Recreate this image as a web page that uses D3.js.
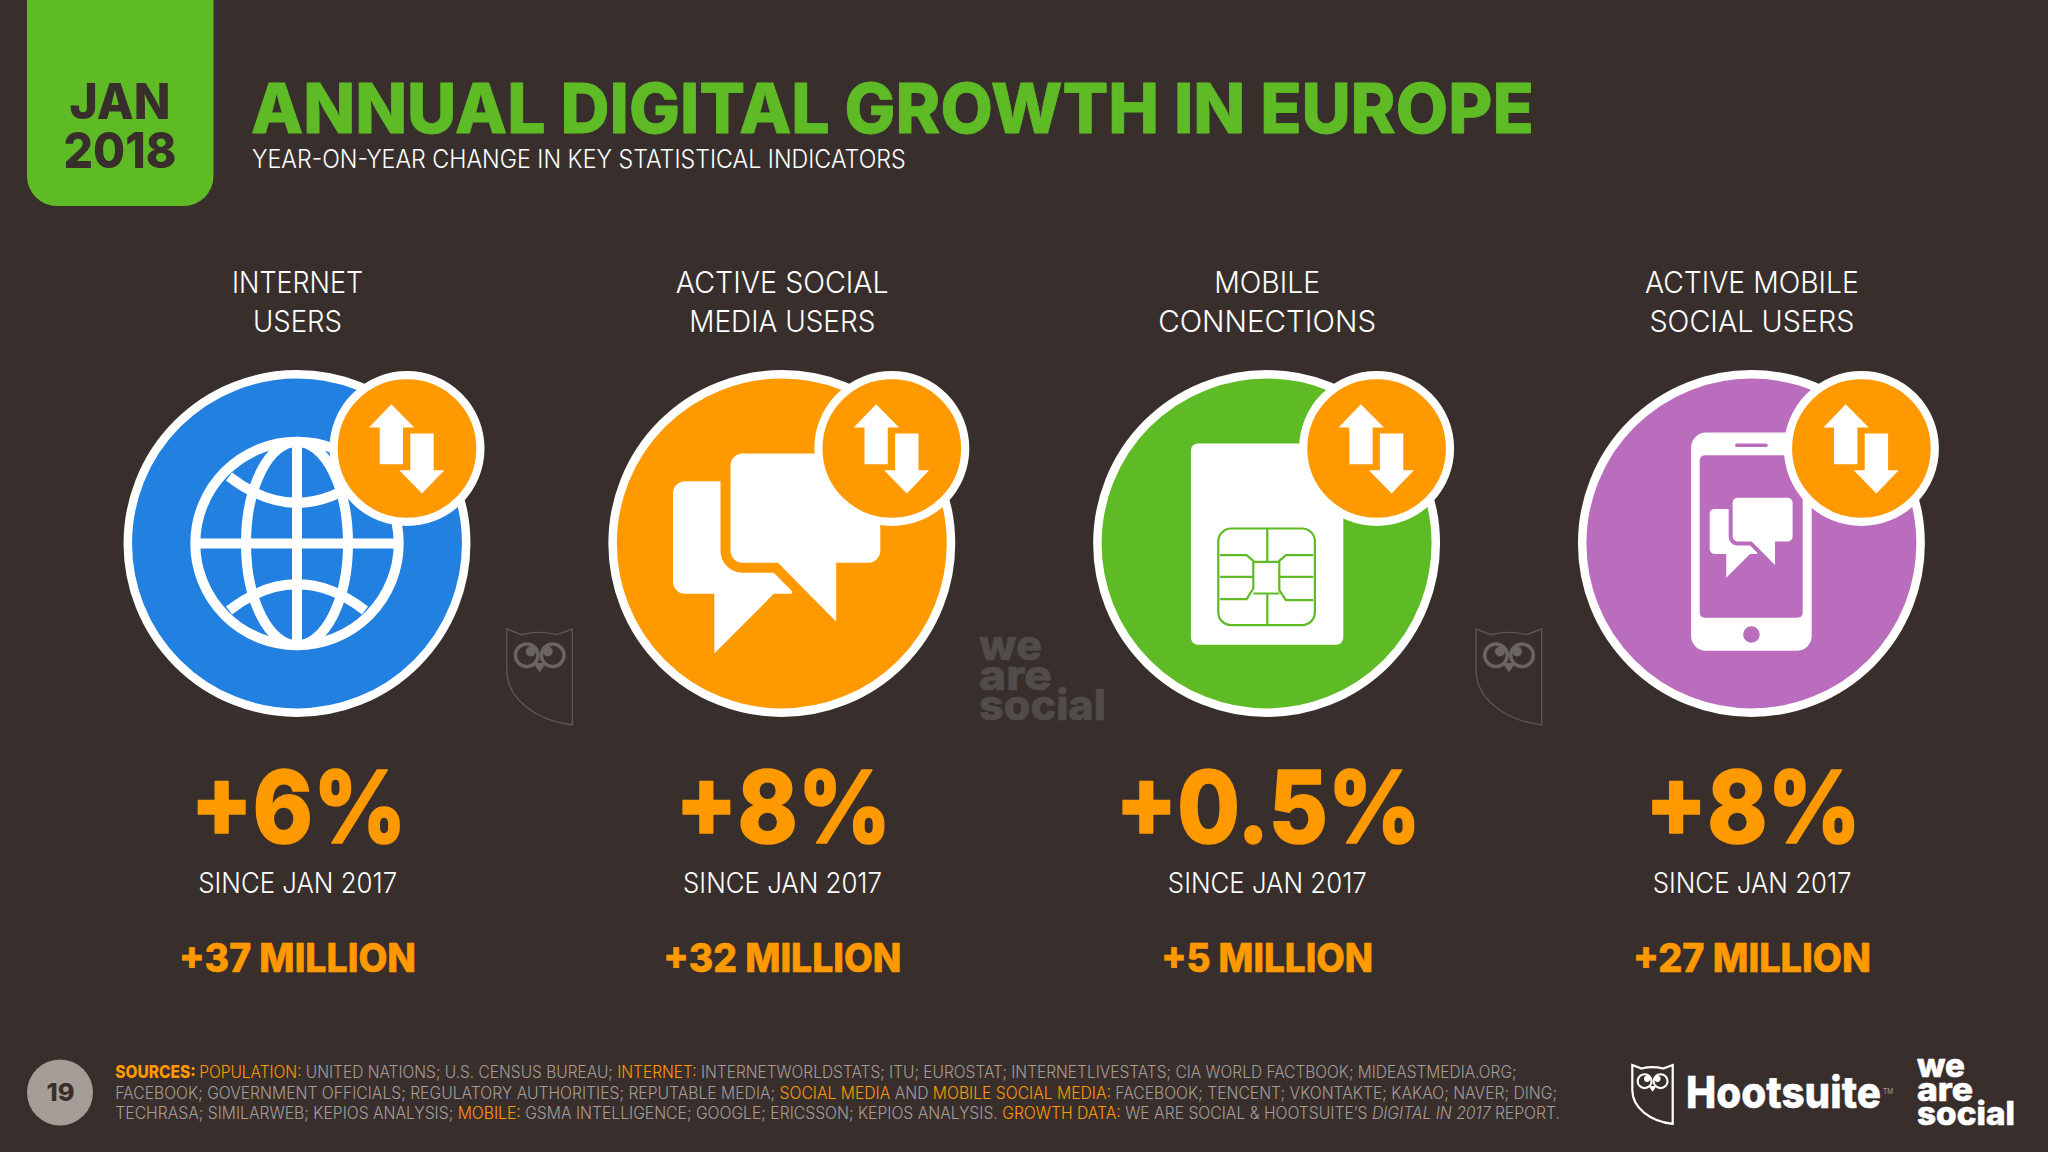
<!DOCTYPE html>
<html><head><meta charset="utf-8">
<style>html,body{margin:0;padding:0;background:#382f2d;overflow:hidden}svg{display:block}text{white-space:pre}</style>
<script src="https://cdn.jsdelivr.net/npm/d3@7/dist/d3.min.js"></script>
</head><body><svg id="c" width="2048" height="1152"></svg>
<script>
// ---------- data ----------
const categories = [["INTERNET","USERS"],["ACTIVE SOCIAL","MEDIA USERS"],["MOBILE","CONNECTIONS"],["ACTIVE MOBILE","SOCIAL USERS"]];
const growthPercent = [6, 8, 0.5, 8];
const growthMillions = [37, 32, 5, 27];
const sinceLabel = "SINCE JAN 2017";
const titleText = "ANNUAL DIGITAL GROWTH IN EUROPE";
const subtitleText = "YEAR-ON-YEAR CHANGE IN KEY STATISTICAL INDICATORS";
const dateLines = ["JAN","2018"];
const pageNumber = "19";
const sourceLine1 = [["SOURCES: ","b"],["POPULATION: ","o"],["UNITED NATIONS; U.S. CENSUS BUREAU; ","n"],["INTERNET: ","o"],["INTERNETWORLDSTATS; ITU; EUROSTAT; INTERNETLIVESTATS; CIA WORLD FACTBOOK; MIDEASTMEDIA.ORG;","n"]];
const sourceLine2 = [["FACEBOOK; GOVERNMENT OFFICIALS; REGULATORY AUTHORITIES; REPUTABLE MEDIA; ","n"],["SOCIAL MEDIA","o"],[" AND ","n"],["MOBILE SOCIAL MEDIA: ","o"],["FACEBOOK; TENCENT; VKONTAKTE; KAKAO; NAVER; DING;","n"]];
const sourceLine3 = [["TECHRASA; SIMILARWEB; KEPIOS ANALYSIS; ","n"],["MOBILE: ","o"],["GSMA INTELLIGENCE; GOOGLE; ERICSSON; KEPIOS ANALYSIS. ","n"],["GROWTH DATA: ","o"],["WE ARE SOCIAL & HOOTSUITE\u2019S ","n"],["DIGITAL IN 2017","i"],[" REPORT.","n"]];

// ---------- layout / style ----------
const BG="#382f2d", GREEN="#5fbb25", ORANGE="#ff9900", BLUE="#2280e0", PURPLE="#bb6dbd", GREY="#a79d97", WM="#514b4a";
const HEAVY="Inter", LIGHT="Inter";
const colors=[BLUE,ORANGE,GREEN,PURPLE];
const headingW=[[131,89],[213,186],[106,218],[214,205]];
const pctW=[216,216,306,216], milW=[237,238,212,238];
const x=d3.scalePoint().domain(d3.range(4)).range([297,1751.4]);
const cy=543.5;
const svg=d3.select("#c");
svg.append("rect").attr("width",2048).attr("height",1152).attr("fill",BG);

// text helper: squeezes real text to measured width
function txt(p,s,tx,ty,size,weight,fill,w,anchor,family,bold){
  const t=p.append("text").text(s).attr("font-family",family||LIGHT).attr("font-size",size)
    .attr("font-weight",weight).attr("fill",fill).attr("text-anchor",anchor||"middle");
  if(bold) t.attr("stroke",fill).attr("stroke-width",bold).attr("stroke-linejoin","round");
  const sx=w?w/t.node().getComputedTextLength():1;
  t.attr("transform",`translate(${tx},${ty}) scale(${sx},1)`);
  return t;
}

// header tab
svg.append("path").attr("fill",GREEN).attr("d","M27,0H213.5V176a30,30 0 0 1 -30,30H57a30,30 0 0 1 -30,-30Z");
txt(svg,dateLines[0],120,119,50,800,BG,101,"middle",HEAVY);
txt(svg,dateLines[1],120,168,50,800,BG,113,"middle",HEAVY);
txt(svg,titleText,251,133,69,800,GREEN,1283,"start",HEAVY,0.8);
txt(svg,subtitleText,252,168,25,300,"#fff",654,"start",LIGHT);

// icons (units are px from circle centre)
function bubbles(g,k,dx,dy,c){
  const s=g.append("g").attr("transform",`translate(${dx},${dy}) scale(${k})`);
  s.append("path").attr("fill","#fff")
   .attr("d","M-96.8,-62.3H10V50.3H-8L-67.5,110V50.3H-96.8a12,12 0 0 1 -12,-12V-50.3a12,12 0 0 1 12,-12Z");
  s.append("path").attr("fill","#fff").attr("stroke",c).attr("stroke-width",20).attr("paint-order","stroke")
   .attr("stroke-linejoin","miter")
   .attr("d","M-39.3,-90H86.5a12,12 0 0 1 12,12V7.3a12,12 0 0 1 -12,12H54.4V78.3L-3.8,19.3H-39.3a12,12 0 0 1 -12,-12V-78a12,12 0 0 1 12,-12Z");
}
const icons=[
 g=>{ const a=g.append("g").attr("fill","none").attr("stroke","#fff").attr("stroke-width",10);
   a.append("circle").attr("r",101.7);
   a.append("ellipse").attr("rx",51).attr("ry",101.7);
   a.append("path").attr("d","M0,-101.7V101.7M-101.7,0H101.7M-68,-67Q0,-14.4 68,-67M-68,67Q0,14.4 68,67"); },
 g=>bubbles(g,1,0,0,ORANGE),
 g=>{ g.append("rect").attr("x",-75.7).attr("y",-100).attr("width",152.4).attr("height",201.3).attr("rx",7).attr("fill","#fff");
   const c=g.append("g").attr("fill","none").attr("stroke",GREEN).attr("stroke-width",2.2);
   c.append("rect").attr("x",-48.3).attr("y",-15).attr("width",96.6).attr("height",96.7).attr("rx",13);
   c.append("path").attr("d","M-46.7,11.7H-20L-13.3,17.3V45L-20,55.7H-46.7M46.7,11.7H19.3L12.7,17.3V46.7L19.3,56.7H46.7M-13.3,18.3H12.7M0.7,-15V18.3M-13.3,50H12.7M0.7,50V81.7M-46.7,33.3H-13.3M12.7,33.3H46.7"); },
 g=>{ g.append("rect").attr("x",-60.3).attr("y",-111).attr("width",120.6).attr("height",218.3).attr("rx",15).attr("fill","#fff");
   g.append("rect").attr("x",-51.7).attr("y",-88.3).attr("width",103).attr("height",162.6).attr("rx",5).attr("fill",PURPLE);
   g.append("rect").attr("x",-16.3).attr("y",-100).attr("width",32.6).attr("height",3.4).attr("rx",1.7).attr("fill",PURPLE);
   g.append("circle").attr("cy",91).attr("r",8.3).attr("fill",PURPLE);
   bubbles(g,0.4,1.8,-9.7,PURPLE); }
];
function owl(p,tx,ty,k,line,eye,sw){
  const o=p.append("g").attr("transform",`translate(${tx},${ty}) scale(${k})`);
  o.append("path").attr("fill","none").attr("stroke",line).attr("stroke-width",sw)
   .attr("d","M0,0L15,5.7Q33,1 50,5.7L65.7,0V95.7C30,92 0,70 0,40.7Z");
  [[20,26.3],[46,26.3]].forEach(e=>o.append("circle").attr("cx",e[0]).attr("cy",e[1]).attr("r",11.3).attr("fill","none").attr("stroke",eye).attr("stroke-width",3.4));
  [[24,22.5],[41,22.5]].forEach(e=>o.append("circle").attr("cx",e[0]).attr("cy",e[1]).attr("r",5).attr("fill",eye));
  o.append("path").attr("fill",eye).attr("d","M26.5,34H39.5L33,43.5Z");
}
function weAreSocial(p,tx,base,gap,size,fill,ws){
  ["we","are","social"].forEach((t,i)=>txt(p,t,tx,base+i*gap,size,800,fill,ws[i],"start",HEAVY,0.6));
}
owl(svg,506.7,629,1,"#5b5553","#6a6462",1.4);
owl(svg,1476,629,1,"#5b5553","#6a6462",1.4);
weAreSocial(svg,979,660,30,42,WM,[63,73,127]);

// columns
const col=svg.selectAll("g.col").data(d3.range(4)).join("g").attr("class","col").attr("transform",i=>`translate(${x(i)},0)`);
col.each(function(i){
  const g=d3.select(this);
  txt(g,categories[i][0],0.5,293,30,300,"#fff",headingW[i][0]);
  txt(g,categories[i][1],0.5,331.5,30,300,"#fff",headingW[i][1]);
  const c=g.append("g").attr("transform",`translate(0,${cy})`);
  c.append("circle").attr("r",169.2).attr("fill",colors[i]).attr("stroke","#fff").attr("stroke-width",8.5);
  icons[i](c);
  const b=c.append("g").attr("transform","translate(110,-95)");
  b.append("circle").attr("r",73.4).attr("fill",ORANGE).attr("stroke","#fff").attr("stroke-width",8.2);
  b.append("path").attr("fill","#fff").attr("d","M-15.7,-44.3L7.3,-21H-4V15.7H-27.3V-21H-38Z");
  b.append("path").attr("fill","#fff").attr("d","M3.3,-15H26.7V21.7H37.3L15,45L-7.7,21.7H3.3Z");
  txt(g,`+${growthPercent[i]}%`,1.5,842.5,100,800,ORANGE,pctW[i],"middle",HEAVY,1.6);
  txt(g,sinceLabel,0.7,893.3,28,300,"#fff",199);
  txt(g,`+${growthMillions[i]} MILLION`,0.5,971.5,39,800,ORANGE,milW[i],"middle",HEAVY,0.6);
});

// footer
svg.append("circle").attr("cx",60).attr("cy",1092.5).attr("r",33).attr("fill",GREY);
txt(svg,pageNumber,60.5,1101,24,800,BG,28,"middle",HEAVY);
const seg={b:{fill:ORANGE,w:800},o:{fill:ORANGE,w:300},n:{fill:GREY,w:300},i:{fill:GREY,w:300,it:1}};
[[sourceLine1,1078,1402],[sourceLine2,1099,1442],[sourceLine3,1119.3,1446]].forEach(([l,y,w])=>{
  const t=svg.append("text").attr("font-family",LIGHT).attr("font-size",17);
  l.forEach(([s,k])=>t.append("tspan").text(s).attr("fill",seg[k].fill).attr("font-weight",seg[k].w).attr("font-style",seg[k].it?"italic":"normal"));
  t.attr("transform",`translate(115.3,${y}) scale(${w/t.node().getComputedTextLength()},1)`);
});
owl(svg,1632.3,1065,0.615,"#fff","#fff",3.6);
txt(svg,"Hootsuite",1686,1108.3,44,800,"#fff",195,"start",HEAVY,0.5);
txt(svg,"TM",1883,1094,8,400,GREY,10,"start",LIGHT);
weAreSocial(svg,1917,1077,24,32.5,"#fff",[48,56,98]);
</script></body></html>
